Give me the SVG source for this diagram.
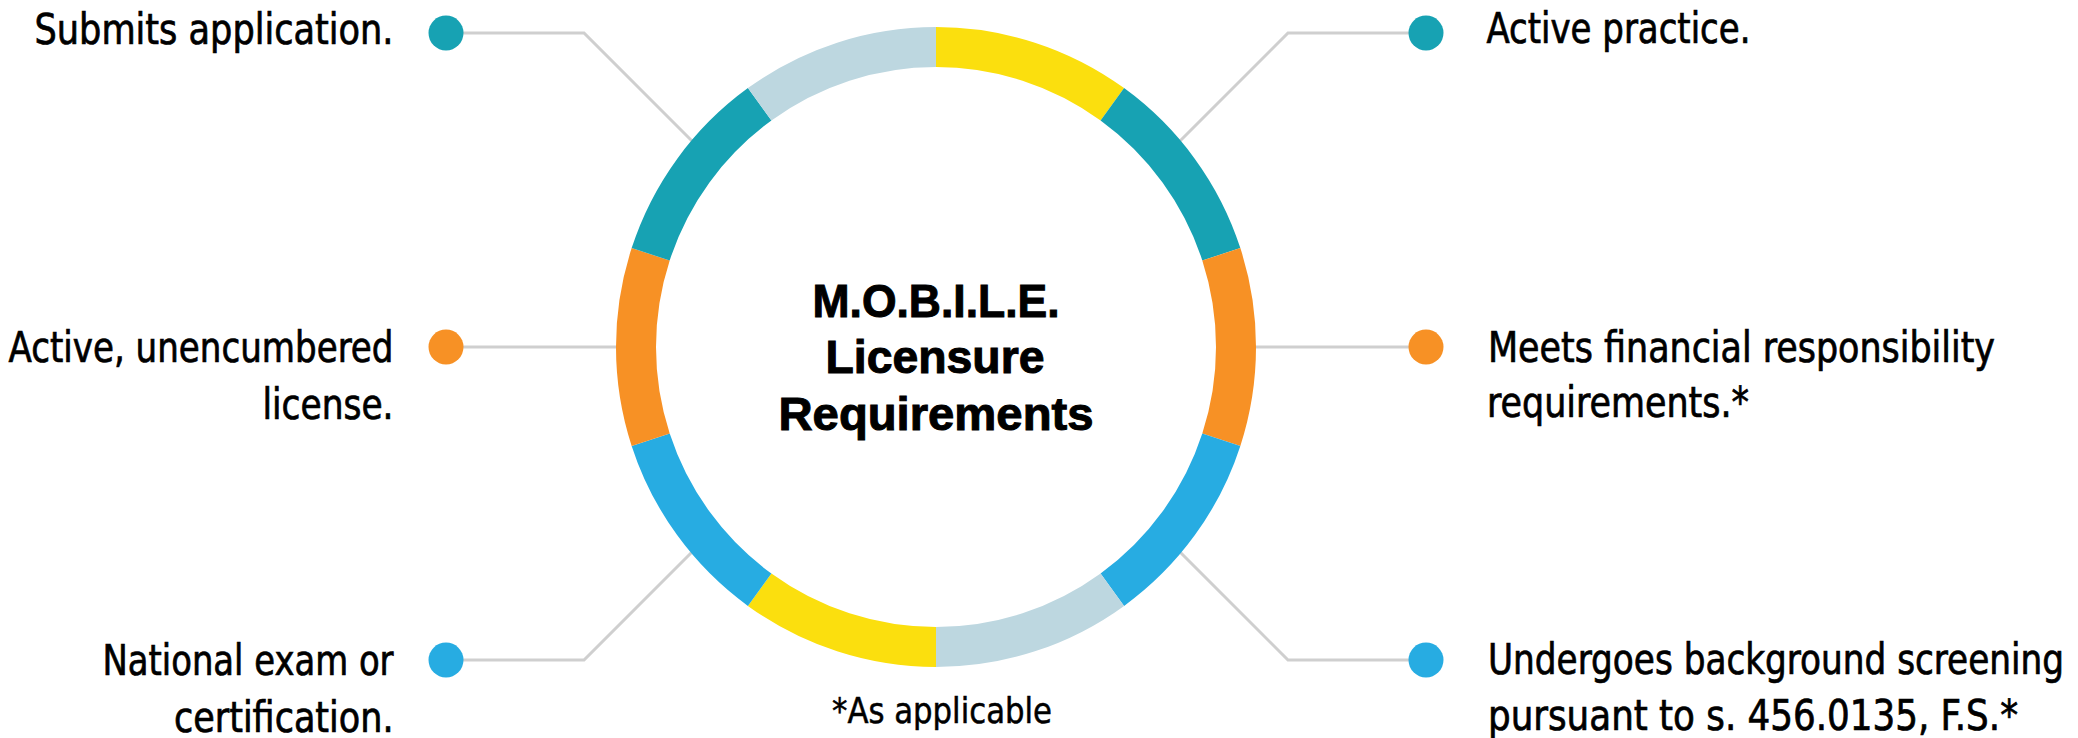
<svg xmlns="http://www.w3.org/2000/svg" width="2078" height="738" viewBox="0 0 2078 738">
<style>
.conn{fill:none;stroke:#cfcfcf;stroke-width:3}
.seg{fill:none;stroke-width:40;stroke-linecap:butt}
.lbl{font-family:"Liberation Sans Narrow","DejaVu Sans Condensed","Liberation Sans",sans-serif;font-size:42px;fill:#000;stroke:#000;stroke-width:0.7}
.l{text-anchor:end}
.ttl{font-family:"Liberation Sans","DejaVu Sans",sans-serif;font-weight:900;font-size:46px;text-anchor:middle;fill:#000;stroke:#000;stroke-width:1}
.note{font-family:"Liberation Sans Narrow","DejaVu Sans Condensed","Liberation Sans",sans-serif;font-size:35px;text-anchor:middle;fill:#000;stroke:#000;stroke-width:0.5}
.teal{fill:#17a2b3}.orange{fill:#f79125}.blue{fill:#27ace2}
</style>
<rect width="2078" height="738" fill="#ffffff"/>
<g id="connectors">
<path class="conn" d="M446 33 H584 L700 149"/>
<path class="conn" d="M1426 33 H1288 L1172 149"/>
<path class="conn" d="M446 347 H640"/>
<path class="conn" d="M1426 347 H1232"/>
<path class="conn" d="M446 660 H584 L700 544"/>
<path class="conn" d="M1426 660 H1288 L1172 544"/>
</g>
<g id="ring">
<path class="seg" stroke="#fbdf0e" d="M936 47 A300 300 0 0 1 1112.34 104.29"/>
<path class="seg" stroke="#17a2b3" d="M1112.34 104.29 A300 300 0 0 1 1221.32 254.29"/>
<path class="seg" stroke="#f79125" d="M1221.32 254.29 A300 300 0 0 1 1221.32 439.71"/>
<path class="seg" stroke="#27ace2" d="M1221.32 439.71 A300 300 0 0 1 1112.34 589.71"/>
<path class="seg" stroke="#bdd7e0" d="M1112.34 589.71 A300 300 0 0 1 936 647"/>
<path class="seg" stroke="#fbdf0e" d="M936 647 A300 300 0 0 1 759.66 589.71"/>
<path class="seg" stroke="#27ace2" d="M759.66 589.71 A300 300 0 0 1 650.68 439.71"/>
<path class="seg" stroke="#f79125" d="M650.68 439.71 A300 300 0 0 1 650.68 254.29"/>
<path class="seg" stroke="#17a2b3" d="M650.68 254.29 A300 300 0 0 1 759.66 104.29"/>
<path class="seg" stroke="#bdd7e0" d="M759.66 104.29 A300 300 0 0 1 936 47"/>
</g>
<g id="center">
<text class="ttl" x="936" y="317" textLength="247" lengthAdjust="spacingAndGlyphs">M.O.B.I.L.E.</text>
<text class="ttl" x="935" y="373" textLength="219" lengthAdjust="spacingAndGlyphs">Licensure</text>
<text class="ttl" x="936" y="430" textLength="315" lengthAdjust="spacingAndGlyphs">Requirements</text>
</g>
<g id="node-submits">
<circle class="teal" cx="446" cy="33" r="17.5"/>
<text class="lbl l" x="393.5" y="43.5" textLength="359" lengthAdjust="spacingAndGlyphs">Submits application.</text>
</g>
<g id="node-active-license">
<circle class="orange" cx="446" cy="347" r="17.5"/>
<text class="lbl l" x="393.5" y="362" textLength="385" lengthAdjust="spacingAndGlyphs">Active, unencumbered</text>
<text class="lbl l" x="393.5" y="418.5" textLength="131" lengthAdjust="spacingAndGlyphs">license.</text>
</g>
<g id="node-exam">
<circle class="blue" cx="446" cy="660" r="17.5"/>
<text class="lbl l" x="393.5" y="675" textLength="291" lengthAdjust="spacingAndGlyphs">National exam or</text>
<text class="lbl l" x="393.5" y="731.5" textLength="219.5" lengthAdjust="spacingAndGlyphs">certification.</text>
</g>
<g id="node-practice">
<circle class="teal" cx="1426" cy="33" r="17.5"/>
<text class="lbl" x="1486.5" y="42.5" textLength="264" lengthAdjust="spacingAndGlyphs">Active practice.</text>
</g>
<g id="node-financial">
<circle class="orange" cx="1426" cy="347" r="17.5"/>
<text class="lbl" x="1488" y="362" textLength="507" lengthAdjust="spacingAndGlyphs">Meets financial responsibility</text>
<text class="lbl" x="1487" y="417" textLength="262" lengthAdjust="spacingAndGlyphs">requirements.*</text>
</g>
<g id="node-background">
<circle class="blue" cx="1426" cy="660" r="17.5"/>
<text class="lbl" x="1488" y="674" textLength="576" lengthAdjust="spacingAndGlyphs">Undergoes background screening</text>
<text class="lbl" x="1488" y="730" textLength="530" lengthAdjust="spacingAndGlyphs">pursuant to s. 456.0135, F.S.*</text>
</g>
<g id="footnote">
<text class="note" x="942" y="723" textLength="220" lengthAdjust="spacingAndGlyphs">*As applicable</text>
</g>
</svg>
